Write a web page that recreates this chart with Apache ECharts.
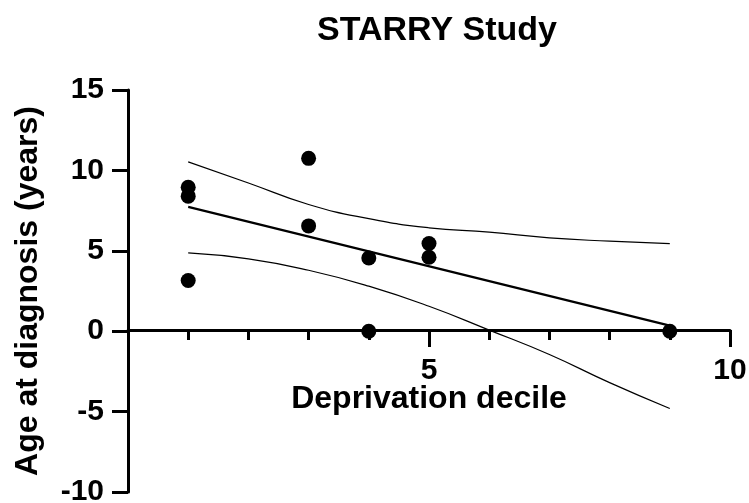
<!DOCTYPE html>
<html>
<head>
<meta charset="utf-8">
<script src="https://cdn.jsdelivr.net/npm/echarts@6/dist/echarts.min.js"></script>
<style>html,body{margin:0;padding:0;background:#fff}#c{width:749px;height:503px}</style>
</head>
<body>
<div id="c"></div>
<script>
// Observed points
const pointX = [1, 1, 1, 3, 3, 4, 4, 5, 5, 9];
const pointY = [8.95, 8.4, 3.15, 10.75, 6.55, 4.55, 0, 5.45, 4.6, 0];
// Regression line
const fitX = [1, 9];
const fitY = [7.73, 0.35];
// Confidence band
const bandX = [1, 2, 3, 4, 5, 6, 7, 8, 9];
const upperY = [10.53, 9.22, 7.88, 7.0, 6.43, 6.16, 5.8, 5.6, 5.45];
const lowerY = [4.87, 4.5, 3.79, 2.8, 1.55, 0.07, -1.45, -3.2, -4.81];
// Axis ticks
const xTicks = { min: 0, max: 10, interval: 5 };
const yTicks = { min: -10, max: 15, interval: 5 };

const FONT = '"Liberation Sans", Arial, Helvetica, sans-serif';
const zip = (a, b) => a.map((v, i) => [v, b[i]]);

const chart = echarts.init(document.getElementById('c'));
chart.setOption({
  animation: false,
  backgroundColor: '#fff',
  title: {
    text: 'STARRY Study',
    left: 432, top: 9, textAlign: 'center',
    textStyle: { fontFamily: FONT, fontWeight: 'bold', fontSize: 34, color: '#000' }
  },
  grid: { left: 128, right: 19, top: 90, bottom: 11, outerBoundsMode: 'none' },
  xAxis: {
    type: 'value', min: xTicks.min, max: xTicks.max, interval: xTicks.interval,
    position: 'bottom', offset: -162,
    name: 'Deprivation decile', nameLocation: 'middle', nameGap: 53, nameMoveOverlap: false,
    nameTextStyle: { fontFamily: FONT, fontWeight: 'bold', fontSize: 32, color: '#000' },
    axisLine: { show: true, onZero: false, lineStyle: { color: '#000', width: 3 } },
    axisTick: { show: true, length: 17, lineStyle: { color: '#000', width: 3 } },
    minorTick: { show: true, splitNumber: 5, length: 10, lineStyle: { color: '#000', width: 3 } },
    axisLabel: { margin: 26, fontFamily: FONT, fontWeight: 'bold', fontSize: 30, color: '#000',
      formatter: v => (v === 0 ? '' : String(v)) },
    splitLine: { show: false }
  },
  yAxis: {
    type: 'value', min: yTicks.min, max: yTicks.max, interval: yTicks.interval,
    name: 'Age at diagnosis (years)', nameLocation: 'middle', nameGap: 84, nameMoveOverlap: false,
    nameTextStyle: { fontFamily: FONT, fontWeight: 'bold', fontSize: 32, color: '#000' },
    axisLine: { show: true, lineStyle: { color: '#000', width: 3 } },
    axisTick: { show: true, length: 16, lineStyle: { color: '#000', width: 3 } },
    axisLabel: { margin: 24, fontFamily: FONT, fontWeight: 'bold', fontSize: 30, color: '#000' },
    splitLine: { show: false }
  },
  series: [
    { type: 'line', data: zip(bandX, upperY), smooth: true, showSymbol: false,
      lineStyle: { color: '#000', width: 1.2 }, z: 3 },
    { type: 'line', data: zip(bandX, lowerY), smooth: true, showSymbol: false,
      lineStyle: { color: '#000', width: 1.2 }, z: 3 },
    { type: 'line', data: zip(fitX, fitY), showSymbol: false,
      lineStyle: { color: '#000', width: 2.2 }, z: 3 },
    { type: 'scatter', data: zip(pointX, pointY), symbol: 'circle', symbolSize: 15,
      itemStyle: { color: '#000', opacity: 1 }, z: 5 }
  ]
});
</script>
</body>
</html>
